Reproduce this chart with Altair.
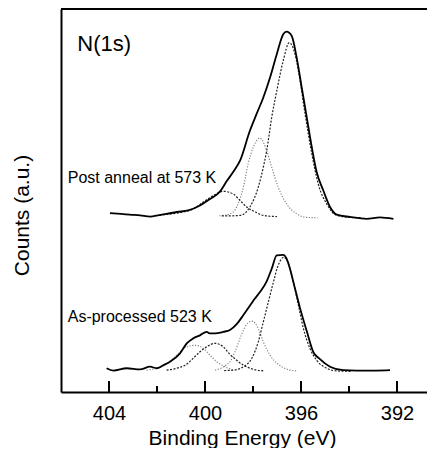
import altair as alt
import pandas as pd

FONT = "Liberation Sans"

# ---- Upper spectrum: Post anneal at 573 K ----
up_total_ev = [403.96, 403.5, 403.13, 402.7, 402.29, 401.9, 401.6, 401.18, 400.7, 400.21,
               399.79, 399.38, 399.1, 398.82, 398.54, 398.13, 397.85, 397.57, 397.29, 397.01,
               396.74, 396.6, 396.39, 396.18, 395.97, 395.76, 395.55, 395.35, 395.07, 394.79,
               394.51, 393.96, 393.26, 392.71, 392.15]
up_total_ct = [46.7, 46.5, 46.3, 46.1, 45.8, 46.2, 46.5, 47.0, 47.4, 48.7,
               50.4, 52.3, 55.0, 57.5, 60.4, 68.2, 72.6, 76.9, 82.1, 88.2,
               93.4, 94.1, 93.0, 87.3, 79.5, 71.7, 63.9, 57.5, 52.6, 48.3,
               46.3, 45.7, 45.2, 45.6, 45.2]

up_main_ev = [399.3, 398.96, 398.54, 398.13, 397.78, 397.57, 397.43, 397.22, 397.01, 396.74,
              396.49, 396.25, 396.04, 395.83, 395.55, 395.28, 394.93, 394.51, 394.0, 393.5]
up_main_ct = [46.0, 46.0, 46.1, 48.3, 53.5, 58.7, 63.0, 71.7, 78.6, 86.5,
              91.2, 88.2, 81.3, 72.6, 62.2, 54.3, 49.1, 46.1, 45.6, 45.5]

up_p2_ev = [399.4, 398.96, 398.68, 398.4, 398.2, 397.99, 397.71, 397.43, 397.22, 396.95,
            396.6, 396.18, 395.76, 395.3]
up_p2_ct = [46.0, 46.5, 48.3, 53.5, 59.6, 63.9, 66.3, 63.0, 58.7, 53.5,
            49.1, 46.5, 45.6, 45.5]

up_p3_ev = [401.9, 401.4, 400.9, 400.49, 400.07, 399.65, 399.24, 398.82, 398.54, 398.26,
            397.9, 397.57, 397.0]
up_p3_ct = [46.2, 46.5, 47.0, 47.8, 49.6, 51.3, 52.4, 51.7, 50.0, 48.3,
            47.0, 46.1, 45.8]

# ---- Lower spectrum: As-processed 523 K ----
lo_total_ev = [404.1, 403.82, 403.26, 402.71, 402.29, 402.01, 401.74, 401.46, 401.04, 400.76,
               400.49, 400.21, 399.93, 399.79, 399.58, 399.24, 398.96, 398.68, 398.4, 398.13,
               397.92, 397.71, 397.43, 397.22, 397.01, 396.74, 396.6, 396.46, 396.25, 396.04,
               395.76, 395.49, 395.21, 394.79, 394.24, 393.68, 392.85, 392.29]
lo_total_ct = [6.2, 5.6, 6.2, 5.9, 6.6, 6.2, 7.0, 7.9, 10.1, 12.7,
               14.0, 14.8, 15.7, 15.3, 15.3, 15.7, 16.2, 17.7, 20.1, 22.5,
               24.4, 26.1, 28.9, 32.2, 35.7, 35.8, 34.8, 32.2, 27.0, 21.9,
               15.9, 10.5, 8.6, 6.6, 5.7, 5.6, 5.6, 5.7]

lo_main_ev = [399.2, 398.82, 398.4, 398.05, 397.78, 397.57, 397.36, 397.15, 396.95, 396.71,
              396.53, 396.32, 396.11, 395.9, 395.63, 395.35, 394.93, 394.51, 393.9]
lo_main_ct = [5.6, 5.7, 6.6, 8.8, 13.1, 18.3, 23.5, 28.7, 33.1, 35.2,
              33.5, 28.7, 22.7, 16.6, 11.4, 8.3, 6.2, 5.5, 5.4]

lo_p2_ev = [399.58, 399.17, 398.96, 398.75, 398.54, 398.33, 398.05, 397.78, 397.57, 397.29,
            396.95, 396.6, 396.18]
lo_p2_ct = [5.7, 6.8, 7.9, 10.5, 14.0, 17.0, 18.5, 16.6, 13.1, 9.6,
            7.2, 6.0, 5.5]

lo_p3_ev = [401.6, 401.18, 400.83, 400.49, 400.21, 399.93, 399.58, 399.24, 398.96, 398.68,
            398.4, 398.13, 397.57]
lo_p3_ct = [5.7, 6.2, 7.0, 8.8, 10.5, 11.8, 12.7, 11.8, 9.8, 8.3,
            7.0, 6.2, 5.5]

lo_p4_ev = [402.43, 402.01, 401.67, 401.32, 401.04, 400.76, 400.42, 400.07, 399.79, 399.51,
            399.17, 398.82]
lo_p4_ct = [5.7, 6.2, 7.0, 8.8, 10.5, 11.8, 12.2, 11.4, 9.6, 7.9,
            6.6, 5.7]

# ---- annotations ----
label_text = ["N(1s)", "Post anneal at 573 K", "As-processed 523 K"]
label_ev = [405.32, 405.72, 405.72]
label_ct = [89.1, 54.5, 18.4]
label_size = [22, 16, 16]

major_ticks = [404, 400, 396, 392]
minor_ticks = [402, 398, 394]

curves = [
    ("up_total", "solid", up_total_ev, up_total_ct),
    ("lo_total", "solid", lo_total_ev, lo_total_ct),
    ("up_main", "dark", up_main_ev, up_main_ct),
    ("up_p3", "dark", up_p3_ev, up_p3_ct),
    ("lo_main", "dark", lo_main_ev, lo_main_ct),
    ("lo_p3", "dark", lo_p3_ev, lo_p3_ct),
    ("up_p2", "light", up_p2_ev, up_p2_ct),
    ("lo_p2", "light", lo_p2_ev, lo_p2_ct),
    ("lo_p4", "light", lo_p4_ev, lo_p4_ct),
]
rows = []
for name, style, evs, cts in curves:
    for e, c in zip(evs, cts):
        rows.append({"curve": name, "style": style, "ev": e, "ct": c})
df = pd.DataFrame(rows)

df_lab = pd.DataFrame({"text": label_text, "ev": label_ev, "ct": label_ct, "size": label_size})
df_major = pd.DataFrame({"ev": major_ticks})
df_minor = pd.DataFrame({"ev": minor_ticks})

W, H = 366, 383

xscale = alt.Scale(domain=[406, 390.75], nice=False, zero=False)
yscale = alt.Scale(domain=[0, 100], nice=False, zero=False)

xaxis = alt.Axis(values=major_ticks, format="d", ticks=False, grid=False, domain=True,
                 domainColor="black", domainWidth=2, labelFontSize=20, labelFont=FONT,
                 labelColor="black", labelPadding=21, labelBaseline="middle", labelFlush=False,
                 title="Binding Energy (eV)", titleFont=FONT, titleFontSize=21,
                 titleFontWeight="normal", titleColor="black", titleBaseline="alphabetic",
                 titleAlign="center", titleX=181, titleY=52)
yaxis = alt.Axis(ticks=False, labels=False, grid=False, domain=True, domainColor="black",
                 domainWidth=2, title="Counts (a.u.)", titleFont=FONT, titleFontSize=21,
                 titleFontWeight="normal", titleColor="black", titleAngle=270,
                 titleAlign="center", titleBaseline="middle", titleX=-39, titleY=206)

X = alt.X("ev:Q", scale=xscale, axis=xaxis)
Y = alt.Y("ct:Q", scale=yscale, axis=yaxis)

light = alt.Chart(df[df["style"] == "light"]).mark_line(
    color="#7a7a7a", strokeWidth=1.1, strokeDash=[1.2, 1.6], interpolate="monotone"
).encode(x=X, y=Y, detail="curve:N")

dark = alt.Chart(df[df["style"] == "dark"]).mark_line(
    color="#222222", strokeWidth=1.2, strokeDash=[2, 1.5], interpolate="monotone"
).encode(x=X, y=Y, detail="curve:N")

solid = alt.Chart(df[df["style"] == "solid"]).mark_line(
    color="black", strokeWidth=1.8, interpolate="monotone"
).encode(x=X, y=Y, detail="curve:N")

texts = alt.Chart(df_lab).mark_text(
    align="left", baseline="alphabetic", font=FONT, color="black"
).encode(x=X, y=Y, text="text:N", size=alt.Size("size:Q", scale=None, legend=None))

major = alt.Chart(df_major).mark_rule(color="black", strokeWidth=2).encode(
    x=X, y=alt.value(H), y2=alt.value(H - 11)
)
minor = alt.Chart(df_minor).mark_rule(color="black", strokeWidth=2).encode(
    x=X, y=alt.value(H), y2=alt.value(H - 6)
)
top_line = alt.Chart(df_major).mark_rule(color="black", strokeWidth=2).encode(
    x=alt.value(0), x2=alt.value(W), y=alt.value(0)
)

chart = alt.layer(light, dark, solid, texts, major, minor, top_line).properties(
    width=W, height=H,
    padding={"left": 53, "top": 1, "right": 0, "bottom": 56},
    autosize=alt.AutoSizeParams(type="none"),
    background="white",
).configure_view(strokeWidth=0)

chart.save("out.html", embed_options={"renderer": "svg", "actions": False})
